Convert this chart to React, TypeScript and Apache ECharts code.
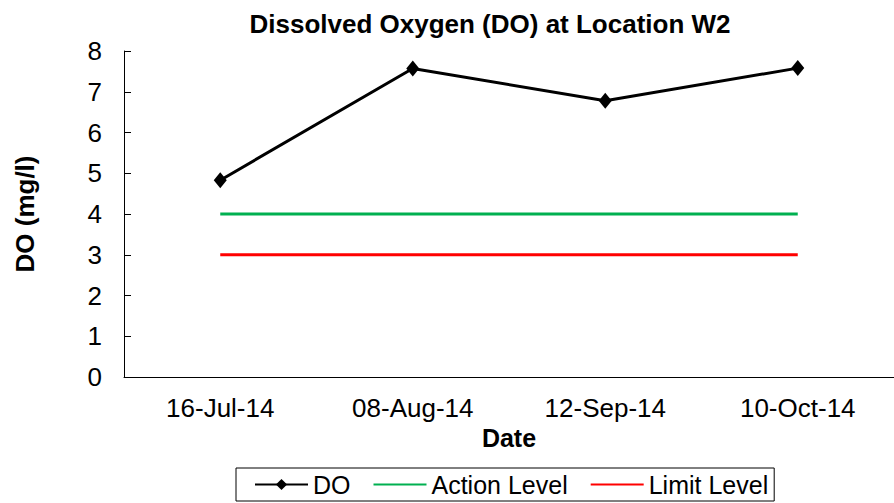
import React, { useEffect, useRef } from "react";
import * as echarts from "echarts";

const categories = ["16-Jul-14", "08-Aug-14", "12-Sep-14", "10-Oct-14"];
const doValues = [4.83, 7.57, 6.78, 7.58];
const actionLevel = [4, 4, 4, 4];
const limitLevel = [3, 3, 3, 3];

const FONT = "'Liberation Sans', Arial, sans-serif";

export default function App() {
  const ref = useRef<HTMLDivElement>(null);
  useEffect(() => {
    if (!ref.current) return;
    const chart = echarts.init(ref.current, null, { renderer: "svg" });
    chart.setOption({
      animation: false,
      backgroundColor: "#fff",
      textStyle: { fontFamily: FONT },
      title: {
        text: "Dissolved Oxygen (DO) at Location W2",
        left: 485,
        textAlign: "center",
        top: 6,
        textStyle: { fontFamily: FONT, fontSize: 26, fontWeight: "bold", color: "#000" },
      },
      grid: { left: 124, top: 51, bottom: 126, right: -9, containLabel: false },
      legend: {
        bottom: 2,
        left: 236,
        orient: "horizontal",
        borderColor: "#000",
        borderWidth: 1,
        borderRadius: 0,
        padding: [4, 6, 4, 18],
        itemGap: 22,
        itemWidth: 53,
        itemHeight: 14,
        textStyle: { fontFamily: FONT, fontSize: 25, color: "#000" },
        data: [
          { name: "DO" },
          { name: "Action Level", itemStyle: { opacity: 0 } },
          { name: "Limit Level", itemStyle: { opacity: 0 } },
        ],
      },
      xAxis: {
        type: "category",
        data: categories,
        boundaryGap: true,
        name: "Date",
        nameLocation: "middle",
        nameGap: 44,
        nameTextStyle: { fontFamily: FONT, fontSize: 25, fontWeight: "bold", color: "#000" },
        axisLine: { lineStyle: { color: "#000", width: 1 } },
        axisTick: { inside: true, length: 7, lineStyle: { color: "#000" } },
        axisLabel: { fontFamily: FONT, fontSize: 26, color: "#000", margin: 18 },
        splitLine: { show: false },
      },
      yAxis: {
        type: "value",
        min: 0,
        max: 8,
        interval: 1,
        name: "DO (mg/l)",
        nameLocation: "middle",
        nameGap: 86,
        nameRotate: 90,
        nameTextStyle: { fontFamily: FONT, fontSize: 26, fontWeight: "bold", color: "#000" },
        axisLine: { show: true, lineStyle: { color: "#000", width: 1 } },
        axisTick: { show: true, inside: true, length: 7, lineStyle: { color: "#000" } },
        axisLabel: { fontFamily: FONT, fontSize: 26, color: "#000", margin: 22 },
        splitLine: { show: false },
      },
      series: [
        {
          name: "DO",
          type: "line",
          data: doValues,
          color: "#000",
          symbol: "diamond",
          symbolSize: [13, 16],
          lineStyle: { color: "#000", width: 3 },
          itemStyle: { color: "#000" },
        },
        {
          name: "Action Level",
          type: "line",
          data: actionLevel,
          color: "#00B050",
          showSymbol: false,
          symbol: "none",
          lineStyle: { color: "#00B050", width: 3 },
        },
        {
          name: "Limit Level",
          type: "line",
          data: limitLevel,
          color: "#FF0000",
          showSymbol: false,
          symbol: "none",
          lineStyle: { color: "#FF0000", width: 3 },
        },
      ],
    });
    return () => chart.dispose();
  }, []);
  return <div ref={ref} style={{ width: 894, height: 503, position: "absolute", left: 0, top: 0 }} />;
}
